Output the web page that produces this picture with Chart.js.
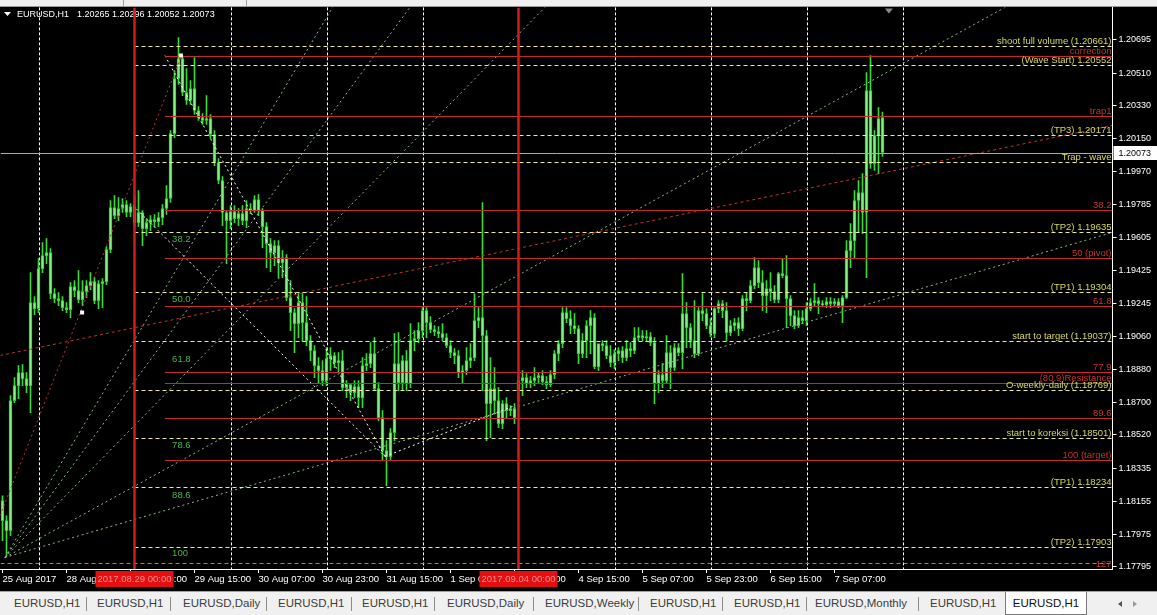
<!DOCTYPE html>
<html>
<head>
<meta charset="utf-8">
<script src="https://cdn.jsdelivr.net/npm/chart.js@4.4.1/dist/chart.umd.min.js"></script>
<style>
  body { margin: 0; background: #000; width: 1157px; height: 615px; overflow: hidden; position: relative; font-family: "Liberation Sans", Arial, sans-serif; }
  #chart { position: absolute; left: 0; top: 0; }
  #strip { position: absolute; left: 0; top: 0; width: 1157px; height: 6px; background: #f0f0f0; border-bottom: 1px solid #9a9a9a; }
  #strip i { position: absolute; top: 0; width: 1px; height: 6px; background: #a0a0a0; }
  #tabs { position: absolute; left: 0; top: 591px; width: 1157px; height: 24px; background: #f0f0f0; border-top: 1px solid #a0a0a0; font-size: 11.5px; color: #3c3c3c; }
  #tabs span { position: absolute; top: 5px; white-space: nowrap; }
  #tabs b { position: absolute; top: 5px; width: 1px; height: 14px; background: #8c8c8c; }
  #tabs .act { top: 0; height: 23px; background: #fff; border: 1px solid #7a7a7a; border-top: none; box-sizing: border-box; text-align: center; line-height: 22px; color: #111; }
  .arr { position: absolute; top: 9px; width: 0; height: 0; border-top: 3px solid transparent; border-bottom: 3px solid transparent; }
</style>
</head>
<body>
<canvas id="chart" width="1157" height="592"></canvas>
<div id="strip"><i style="left:123px"></i><i style="left:246px"></i></div>
<div id="tabs">
  <span style="left:14px">EURUSD,H1</span><b style="left:86px"></b>
  <span style="left:97px">EURUSD,H1</span><b style="left:170px"></b>
  <span style="left:183px">EURUSD,Daily</span><b style="left:266px"></b>
  <span style="left:278px">EURUSD,H1</span><b style="left:351px"></b>
  <span style="left:362px">EURUSD,H1</span><b style="left:434px"></b>
  <span style="left:447px">EURUSD,Daily</span><b style="left:533px"></b>
  <span style="left:545px">EURUSD,Weekly</span><b style="left:638px"></b>
  <span style="left:650px">EURUSD,H1</span><b style="left:722px"></b>
  <span style="left:734px">EURUSD,H1</span><b style="left:806px"></b>
  <span style="left:815px">EURUSD,Monthly</span><b style="left:918px"></b>
  <span style="left:930px">EURUSD,H1</span>
  <span class="act" style="left:1005px;width:82px">EURUSD,H1</span>
  <div class="arr" style="left:1118px;border-right:4px solid #555"></div>
  <div class="arr" style="left:1133px;border-left:4px solid #999"></div>
</div>

<script>
// EURUSD H1, 25 Aug 2017 15:00 .. 7 Sep 2017 19:00
const days = ['25 Aug', '28 Aug', '29 Aug', '30 Aug', '31 Aug', '1 Sep', '4 Sep', '5 Sep', '6 Sep', '7 Sep'];
const firstHour = 15;
const firstTickLabel = '25 Aug 2017';
const slots = 278;   // bars + empty shift area

const open = [
  1.18159, 1.18049, 1.17994, 1.18709, 1.18791, 1.18863, 1.18830, 1.18791, 1.19248, 1.19215, 1.19435, 1.19506,
  1.19523, 1.19297, 1.19270, 1.19259, 1.19220, 1.19209, 1.19336, 1.19314, 1.19264, 1.19308, 1.19341, 1.19363,
  1.19259, 1.19352, 1.19363, 1.19539, 1.19770, 1.19726, 1.19765, 1.19787, 1.19743, 1.19776, 1.19688, 1.19743,
  1.19655, 1.19688, 1.19704, 1.19693, 1.19715, 1.19765, 1.19820, 1.20177, 1.20480, 1.20590, 1.20403, 1.20359,
  1.20425, 1.20304, 1.20265, 1.20249, 1.20260, 1.20172, 1.20018, 1.19919, 1.19743, 1.19699, 1.19748, 1.19710,
  1.19737, 1.19699, 1.19765, 1.19754, 1.19814, 1.19754, 1.19666, 1.19572, 1.19523, 1.19561, 1.19468, 1.19495,
  1.19275, 1.19193, 1.19132, 1.19248, 1.19138, 1.19039, 1.18984, 1.18901, 1.18874, 1.18819, 1.18940, 1.18956,
  1.18918, 1.18929, 1.18780, 1.18797, 1.18753, 1.18786, 1.18725, 1.18901, 1.18912, 1.18967, 1.18775, 1.18615,
  1.18434, 1.18401, 1.18533, 1.18912, 1.18808, 1.18929, 1.18802, 1.19039, 1.19050, 1.19094, 1.19204, 1.19138,
  1.19099, 1.19088, 1.19077, 1.19055, 1.19011, 1.18973, 1.18956, 1.18863, 1.18874, 1.18929, 1.18945, 1.19149,
  1.19165, 1.19066, 1.18692, 1.18775, 1.18709, 1.18582, 1.18692, 1.18654, 1.18665, 1.18764, 1.18819, 1.18835,
  1.18802, 1.18819, 1.18835, 1.18846, 1.18813, 1.18797, 1.18852, 1.18967, 1.19022, 1.19193, 1.19160, 1.19121,
  1.19105, 1.18967, 1.19039, 1.19121, 1.19165, 1.18896, 1.19022, 1.19011, 1.18956, 1.18918, 1.18967, 1.18984,
  1.18945, 1.18995, 1.18984, 1.19055, 1.19066, 1.19055, 1.19061, 1.19028, 1.18802, 1.18852, 1.18819, 1.18973,
  1.18890, 1.19000, 1.18973, 1.19187, 1.19110, 1.19039, 1.18967, 1.19204, 1.19187, 1.19121, 1.19077, 1.19215,
  1.19242, 1.19204, 1.19083, 1.19121, 1.19138, 1.19105, 1.19270, 1.19259, 1.19341, 1.19440, 1.19358, 1.19286,
  1.19325, 1.19308, 1.19264, 1.19407, 1.19396, 1.19270, 1.19176, 1.19121, 1.19165, 1.19149, 1.19215, 1.19248,
  1.19259, 1.19242, 1.19237, 1.19253, 1.19242, 1.19253, 1.19231, 1.19275, 1.19534, 1.19589, 1.19809, 1.19853,
  1.19743, 1.20414, 1.20012, 1.20166, 1.20265
];
const high = [
  1.18186, 1.18076, 1.18736, 1.18835, 1.18901, 1.18907, 1.18863, 1.19413, 1.19281, 1.19490, 1.19578, 1.19600,
  1.19545, 1.19325, 1.19303, 1.19281, 1.19248, 1.19358, 1.19369, 1.19424, 1.19369, 1.19369, 1.19413, 1.19385,
  1.19369, 1.19380, 1.19556, 1.19809, 1.19836, 1.19825, 1.19820, 1.19809, 1.19792, 1.19836, 1.19864, 1.19754,
  1.19710, 1.19726, 1.19732, 1.19743, 1.19787, 1.19891, 1.20194, 1.20524, 1.20705, 1.20606, 1.20535, 1.20469,
  1.20595, 1.20326, 1.20287, 1.20386, 1.20282, 1.20194, 1.20040, 1.19941, 1.19754, 1.19781, 1.19781, 1.19765,
  1.19781, 1.19809, 1.19792, 1.19836, 1.19842, 1.19765, 1.19688, 1.19600, 1.19589, 1.19589, 1.19534, 1.19512,
  1.19369, 1.19215, 1.19297, 1.19297, 1.19281, 1.19066, 1.19011, 1.18945, 1.18929, 1.19000, 1.19000, 1.18973,
  1.18973, 1.18984, 1.18819, 1.18802, 1.18819, 1.18819, 1.18945, 1.18967, 1.19028, 1.19055, 1.18808, 1.18654,
  1.18489, 1.18555, 1.19077, 1.19083, 1.18956, 1.18984, 1.19132, 1.19094, 1.19138, 1.19220, 1.19220, 1.19171,
  1.19121, 1.19116, 1.19132, 1.19077, 1.19039, 1.18995, 1.18984, 1.18901, 1.19000, 1.19022, 1.19297, 1.19220,
  1.19798, 1.19094, 1.18945, 1.18890, 1.18780, 1.18709, 1.18725, 1.18681, 1.18692, 1.18846, 1.18874, 1.18857,
  1.18841, 1.18890, 1.18863, 1.18874, 1.18841, 1.18874, 1.18984, 1.19039, 1.19220, 1.19220, 1.19204, 1.19187,
  1.19121, 1.19077, 1.19149, 1.19204, 1.19187, 1.19011, 1.19039, 1.19039, 1.19011, 1.18989, 1.19000, 1.19006,
  1.19039, 1.19028, 1.19110, 1.19110, 1.19094, 1.19094, 1.19083, 1.19055, 1.18874, 1.18912, 1.19066, 1.19011,
  1.19022, 1.19022, 1.19407, 1.19248, 1.19132, 1.19259, 1.19220, 1.19297, 1.19215, 1.19160, 1.19220, 1.19259,
  1.19259, 1.19248, 1.19149, 1.19160, 1.19165, 1.19286, 1.19303, 1.19369, 1.19495, 1.19479, 1.19424, 1.19369,
  1.19413, 1.19341, 1.19413, 1.19490, 1.19506, 1.19286, 1.19204, 1.19204, 1.19204, 1.19248, 1.19270, 1.19352,
  1.19275, 1.19259, 1.19275, 1.19275, 1.19270, 1.19270, 1.19286, 1.19589, 1.19682, 1.19864, 1.19919, 1.19957,
  1.20513, 1.20606, 1.20194, 1.20320, 1.20296
];
const low = [
  1.17939, 1.17856, 1.17966, 1.18698, 1.18720, 1.18791, 1.18753, 1.18643, 1.19182, 1.19193, 1.19413, 1.19462,
  1.19270, 1.19248, 1.19231, 1.19204, 1.19193, 1.19165, 1.19281, 1.19248, 1.19231, 1.19275, 1.19319, 1.19242,
  1.19215, 1.19220, 1.19347, 1.19523, 1.19710, 1.19699, 1.19743, 1.19721, 1.19721, 1.19666, 1.19666, 1.19561,
  1.19616, 1.19644, 1.19666, 1.19666, 1.19677, 1.19732, 1.19798, 1.20155, 1.20447, 1.20386, 1.20337, 1.20337,
  1.20282, 1.20249, 1.20227, 1.20227, 1.20150, 1.20001, 1.19902, 1.19671, 1.19462, 1.19655, 1.19688, 1.19671,
  1.19677, 1.19660, 1.19737, 1.19743, 1.19726, 1.19550, 1.19440, 1.19418, 1.19451, 1.19385, 1.19385, 1.19259,
  1.19094, 1.18973, 1.19055, 1.19033, 1.19011, 1.18929, 1.18835, 1.18802, 1.18791, 1.18791, 1.18874, 1.18890,
  1.18874, 1.18764, 1.18725, 1.18709, 1.18725, 1.18670, 1.18670, 1.18874, 1.18890, 1.18764, 1.18599, 1.18379,
  1.18241, 1.18379, 1.18489, 1.18764, 1.18764, 1.18764, 1.18780, 1.18984, 1.19028, 1.19055, 1.19055, 1.19083,
  1.19066, 1.19055, 1.19039, 1.19000, 1.18945, 1.18912, 1.18835, 1.18802, 1.18852, 1.18890, 1.18929, 1.19110,
  1.18764, 1.18489, 1.18505, 1.18637, 1.18560, 1.18555, 1.18615, 1.18626, 1.18582, 1.18709, 1.18736, 1.18780,
  1.18780, 1.18791, 1.18808, 1.18797, 1.18775, 1.18786, 1.18830, 1.18929, 1.19000, 1.19138, 1.19077, 1.19077,
  1.18912, 1.18945, 1.18945, 1.18967, 1.18885, 1.18874, 1.18984, 1.18940, 1.18896, 1.18885, 1.18929, 1.18918,
  1.18929, 1.18951, 1.18967, 1.19039, 1.19039, 1.19033, 1.19011, 1.18692, 1.18753, 1.18780, 1.18802, 1.18775,
  1.18874, 1.18956, 1.18885, 1.19000, 1.19000, 1.18945, 1.18956, 1.19149, 1.19105, 1.19061, 1.19055, 1.19193,
  1.19165, 1.19039, 1.19066, 1.19094, 1.19066, 1.19094, 1.19204, 1.19248, 1.19325, 1.19330, 1.19204, 1.19193,
  1.19259, 1.19248, 1.19248, 1.19385, 1.19110, 1.19121, 1.19105, 1.19110, 1.19132, 1.19121, 1.19204, 1.19231,
  1.19187, 1.19226, 1.19220, 1.19220, 1.19231, 1.19220, 1.19138, 1.19270, 1.19440, 1.19490, 1.19633, 1.19627,
  1.19385, 1.19985, 1.19974, 1.19957, 1.20052
];
const close = [
  1.18049, 1.17994, 1.18709, 1.18791, 1.18863, 1.18830, 1.18791, 1.19248, 1.19215, 1.19435, 1.19506, 1.19523,
  1.19297, 1.19270, 1.19259, 1.19220, 1.19209, 1.19336, 1.19314, 1.19264, 1.19308, 1.19341, 1.19363, 1.19259,
  1.19352, 1.19363, 1.19539, 1.19770, 1.19726, 1.19765, 1.19787, 1.19743, 1.19776, 1.19688, 1.19743, 1.19655,
  1.19688, 1.19704, 1.19693, 1.19715, 1.19765, 1.19820, 1.20177, 1.20480, 1.20590, 1.20403, 1.20359, 1.20425,
  1.20304, 1.20265, 1.20249, 1.20260, 1.20172, 1.20018, 1.19919, 1.19743, 1.19699, 1.19748, 1.19710, 1.19737,
  1.19699, 1.19765, 1.19754, 1.19814, 1.19754, 1.19666, 1.19572, 1.19523, 1.19561, 1.19468, 1.19495, 1.19275,
  1.19193, 1.19132, 1.19248, 1.19138, 1.19039, 1.18984, 1.18901, 1.18874, 1.18819, 1.18940, 1.18956, 1.18918,
  1.18929, 1.18780, 1.18797, 1.18753, 1.18786, 1.18725, 1.18901, 1.18912, 1.18967, 1.18775, 1.18615, 1.18434,
  1.18401, 1.18533, 1.18912, 1.18808, 1.18929, 1.18802, 1.19039, 1.19050, 1.19094, 1.19204, 1.19138, 1.19099,
  1.19088, 1.19077, 1.19055, 1.19011, 1.18973, 1.18956, 1.18863, 1.18874, 1.18929, 1.18945, 1.19149, 1.19165,
  1.19066, 1.18692, 1.18775, 1.18709, 1.18582, 1.18692, 1.18654, 1.18665, 1.18615, 1.18819, 1.18835, 1.18802,
  1.18819, 1.18835, 1.18846, 1.18813, 1.18797, 1.18852, 1.18967, 1.19022, 1.19193, 1.19160, 1.19121, 1.19105,
  1.18967, 1.19039, 1.19121, 1.19165, 1.18896, 1.19022, 1.19011, 1.18956, 1.18918, 1.18967, 1.18984, 1.18945,
  1.18995, 1.18984, 1.19055, 1.19066, 1.19055, 1.19061, 1.19028, 1.18802, 1.18852, 1.18819, 1.18973, 1.18890,
  1.19000, 1.18973, 1.19187, 1.19110, 1.19039, 1.18967, 1.19204, 1.19187, 1.19121, 1.19077, 1.19215, 1.19242,
  1.19204, 1.19083, 1.19121, 1.19138, 1.19105, 1.19270, 1.19259, 1.19341, 1.19440, 1.19358, 1.19286, 1.19325,
  1.19308, 1.19264, 1.19407, 1.19396, 1.19270, 1.19176, 1.19121, 1.19165, 1.19149, 1.19215, 1.19248, 1.19259,
  1.19242, 1.19237, 1.19253, 1.19242, 1.19253, 1.19231, 1.19275, 1.19534, 1.19589, 1.19809, 1.19853, 1.19743,
  1.20414, 1.20012, 1.20166, 1.20260, 1.20073
];

// price scale
const yMin = 1.17783, yMax = 1.20871;
const yTicks = [1.20695, 1.20510, 1.20330, 1.20150, 1.19970, 1.19785, 1.19605, 1.19425, 1.19245,
                1.19060, 1.18880, 1.18700, 1.18520, 1.18335, 1.18155, 1.17975, 1.17795];

// objects on the chart (bar index, price)
const yellowLevels = [1.20661, 1.20552, 1.20171, 1.20019, 1.19635, 1.19304, 1.19037, 1.18769, 1.18501, 1.18234, 1.17903];
const yellowTexts = ['shoot full volume (1.20661)', '(Wave Start) 1.20552', '(TP3) 1.20171', 'Trap - wave',
                     '(TP2) 1.19635', '(TP1) 1.19304', 'start to target (1.19037)', 'O-weekly-daily (1.18769)',
                     'start to koreksi (1.18501)', '(TP1) 1.18234', '(TP2) 1.17903'];
const redLevels = [1.20604, 1.20274, 1.19755, 1.19492, 1.19228, 1.18865, 1.18805, 1.18613, 1.18382];
const redTexts = ['correction', 'trap1', '38.2', '50 (pivot)', '61.8', '77.9', '(80.9)Resistance', '89.6', '100 (target)'];
const level127 = 1.17816;
const fiboTexts = ['38.2', '50.0', '61.8', '78.6', '88.6', '100'];
const fiboTextPrices = [1.19596, 1.19266, 1.18937, 1.18464, 1.18190, 1.17871];
const separators = [9, 57, 81, 105, 153, 177, 201, 225];
const markerBars = [33, 129];
const markerTexts = ['2017.08.29 00:00', '2017.09.04 00:00'];
const fanOrigin = [0.6, 1.17849];
const fanEnds = [[277.4, 1.28069], [277.4, 1.26121], [277.4, 1.24052], [277.4, 1.21200], [277.4, 1.19637]];
const redDashLine = [-0.6, 1.18959, 277.4, 1.20222];
const redDotLine = [-0.6, 1.18080, 44.6, 1.20596];
const whiteLines = [[40.6, 1.20607, 95.6, 1.18404], [32.6, 1.19783, 95.6, 1.18404], [95.6, 1.18404, 128.1, 1.18684]];
const anchorPoints = [[19.9, 1.19195], [44.6, 1.20607]];

const cats = [];
days.forEach((d, k) => {
    for (let h = k ? 0 : firstHour; h < 24; h++) cats.push(d + ' ' + String(h).padStart(2, '0') + ':00');
});
cats.length = close.length;
while (cats.length < slots) cats.push('');

const FAMILY = '"Liberation Sans", Arial, sans-serif';
const FONT = '9.5px ' + FAMILY;
const last = close.length - 1;

function isLabelTick(i) {
    return i === 0 || (i % 16 === 0 && i <= last);
}

function line(ctx, x1, y1, x2, y2, color, dash, w) {
    ctx.save();
    ctx.strokeStyle = color;
    ctx.lineWidth = w || 1;
    ctx.setLineDash(dash || []);
    ctx.beginPath();
    ctx.moveTo(x1, y1);
    ctx.lineTo(x2, y2);
    ctx.stroke();
    ctx.restore();
}

const mtObjects = {
    id: 'mtObjects',
    beforeDatasetsDraw(chart) {
        const {ctx, chartArea: a, scales: {x}} = chart;
        separators.forEach(i => {
            const px = Math.round(x.getPixelForValue(i)) + 0.5;
            line(ctx, px, a.top, px, a.bottom, '#ffffff', [3, 2]);
        });
    },
    afterDatasetsDraw(chart) {
        const {ctx, chartArea: a, scales: {x, y}} = chart;
        const X = v => x.getPixelForValue(v);
        const Y = v => Math.round(y.getPixelForValue(v)) + 0.5;
        ctx.save();
        ctx.beginPath();
        ctx.rect(a.left, a.top, a.right - a.left, a.bottom - a.top);
        ctx.clip();

        // fan and trend lines
        fanEnds.forEach(e => line(ctx, X(fanOrigin[0]), Y(fanOrigin[1]), X(e[0]), Y(e[1]), '#86b886', [2, 3]));
        line(ctx, X(redDashLine[0]), Y(redDashLine[1]), X(redDashLine[2]), Y(redDashLine[3]), '#c03030', [3, 3]);
        line(ctx, X(redDotLine[0]), Y(redDotLine[1]), X(redDotLine[2]), Y(redDotLine[3]), '#c03030', [2, 3]);
        whiteLines.forEach(l => line(ctx, X(l[0]), Y(l[1]), X(l[2]), Y(l[3]), '#ffffff', [2, 3]));

        // horizontal levels
        ctx.font = FONT;
        ctx.textAlign = 'right';
        ctx.textBaseline = 'alphabetic';
        const rx = a.right - 1;
        yellowLevels.forEach(p => line(ctx, X(33), Y(p), a.right, Y(p), '#ecec96', [4, 3]));
        redLevels.forEach(p => line(ctx, X(40.6), Y(p), a.right, Y(p), '#c42c2c', []));
        line(ctx, a.left, Y(level127), a.right, Y(level127), '#6f9f6f', [4, 3]);
        ctx.fillStyle = '#c83232';
        redLevels.forEach((p, k) => ctx.fillText(redTexts[k], rx, Y(p) - 3));
        ctx.fillText('127', rx, Y(level127) + 3);
        ctx.fillStyle = '#d6d65e';
        yellowLevels.forEach((p, k) => ctx.fillText(yellowTexts[k], rx, Y(p) - 3));

        // fibo level texts
        ctx.textAlign = 'left';
        ctx.textBaseline = 'middle';
        ctx.fillStyle = '#4cb44c';
        fiboTexts.forEach((t, k) => ctx.fillText(t, X(42.4), Y(fiboTextPrices[k])));

        // current price line
        line(ctx, a.left, Y(close[last]), a.right, Y(close[last]), '#a8a8b8', []);

        // anchor points
        ctx.fillStyle = '#ffffff';
        anchorPoints.forEach(p => ctx.fillRect(X(p[0]) - 2, Y(p[1]) - 2, 4, 4));

        // title
        ctx.fillStyle = '#ffffff';
        ctx.beginPath();
        ctx.moveTo(4, 12); ctx.lineTo(11, 12); ctx.lineTo(7.5, 16); ctx.closePath(); ctx.fill();
        ctx.font = '9px ' + FAMILY;
        ctx.textBaseline = 'middle';
        ctx.fillText('EURUSD,H1', 17, 15);
        ctx.fillText([open[last], high[last], low[last], close[last]].map(v => v.toFixed(5)).join(' '), 77, 15);

        // vertical date lines
        markerBars.forEach(i => line(ctx, X(i), a.top, X(i), a.bottom, '#d41c1c', [], 2.5));

        // chart shift marker
        ctx.fillStyle = '#8c8c8c';
        ctx.beginPath();
        const sx = X(last + 1.6);
        ctx.moveTo(sx - 4, a.top + 1); ctx.lineTo(sx + 4, a.top + 1); ctx.lineTo(sx, a.top + 6); ctx.closePath(); ctx.fill();
        ctx.restore();
    },
    afterDraw(chart) {
        const {ctx, chartArea: a, scales: {x, y}} = chart;
        ctx.save();
        ctx.font = FONT;
        ctx.textBaseline = 'middle';
        ctx.textAlign = 'center';
        markerBars.forEach((i, k) => {
            const px = x.getPixelForValue(i);
            ctx.fillStyle = '#e41010';
            ctx.fillRect(px - 39, a.bottom + 2, 78, 16);
            ctx.fillStyle = '#ff8a8a';
            ctx.fillText(markerTexts[k], px, a.bottom + 10.5);
        });
        const cy = Math.round(y.getPixelForValue(close[last]));
        ctx.font = '9px ' + FAMILY;
        ctx.fillStyle = '#ffffff';
        ctx.fillRect(a.right + 1, cy - 7, 44, 14);
        ctx.fillStyle = '#000000';
        ctx.textAlign = 'left';
        ctx.fillText(close[last].toFixed(5), a.right + 6, cy + 0.5);
        ctx.restore();
    }
};

new Chart(document.getElementById('chart'), {
    type: 'bar',
    data: {
        labels: cats,
        datasets: [
            {
                label: 'wick',
                data: low.map((l, i) => [l, high[i]]),
                backgroundColor: '#3ad83a',
                barThickness: 1,
                grouped: false,
                order: 2
            },
            {
                label: 'body',
                data: open.map((o, i) => [o, close[i]]),
                backgroundColor: '#86ee86',
                borderColor: '#2ccc2c',
                borderWidth: 1,
                borderSkipped: false,
                barThickness: 3,
                minBarLength: 1,
                grouped: false,
                order: 1
            }
        ]
    },
    options: {
        responsive: false,
        animation: false,
        events: [],
        layout: { padding: { left: 0.5, top: 7, right: 0, bottom: 0 } },
        plugins: { legend: { display: false }, tooltip: { enabled: false } },
        scales: {
            x: {
                offset: true,
                afterFit: s => { s.height = 23; },
                grid: {
                    offset: false,
                    drawOnChartArea: false,
                    drawTicks: true,
                    tickLength: 4,
                    color: 'rgba(0,0,0,0)',
                    tickColor: c => isLabelTick(c.index) ? '#ffffff' : 'rgba(0,0,0,0)'
                },
                border: { display: true, color: '#ffffff' },
                ticks: {
                    autoSkip: false,
                    maxRotation: 0,
                    align: 'start',
                    padding: 1,
                    color: '#ffffff',
                    font: { family: FAMILY, size: 9.5 },
                    callback: (v, i) => i === 0 ? firstTickLabel : (isLabelTick(i) ? cats[i] : '')
                }
            },
            y: {
                position: 'right',
                min: yMin,
                max: yMax,
                afterBuildTicks: s => { s.ticks = yTicks.map(v => ({ value: v })); },
                afterFit: s => { s.width = 44.5; },
                grid: { drawOnChartArea: false, drawTicks: true, tickLength: 4, color: '#ffffff', tickColor: '#ffffff' },
                border: { display: true, color: '#ffffff' },
                ticks: {
                    padding: 2,
                    color: '#ffffff',
                    font: { family: FAMILY, size: 9 },
                    callback: v => v.toFixed(5)
                }
            }
        }
    },
    plugins: [mtObjects]
});
</script>
</body>
</html>
